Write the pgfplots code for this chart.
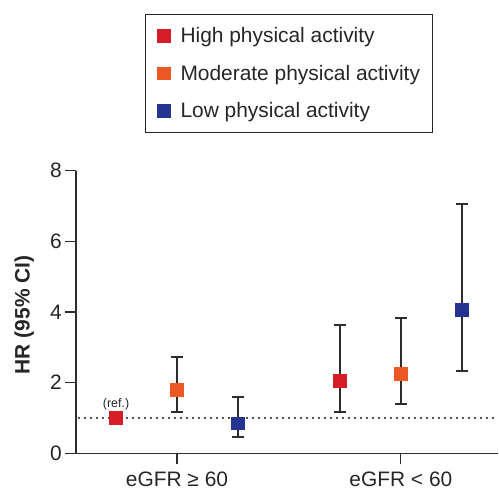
\documentclass[border=0pt]{standalone}
\usepackage{fontspec}
\setmainfont{Liberation Sans}
\usepackage{pgfplots}
\pgfplotsset{compat=1.18}
\definecolor{cred}{RGB}{215,30,40}
\definecolor{corange}{RGB}{236,88,36}
\definecolor{cblue}{RGB}{38,52,145}
\definecolor{caxis}{RGB}{45,45,45}
\begin{document}
\begin{tikzpicture}
\begin{axis}[
  scale only axis, width=422bp, height=282.6bp,
  xmin=0.549, xmax=2.434, ymin=0, ymax=8,
  axis lines*=left,
  axis line style={caxis, line width=1.3bp},
  tick style={caxis, line width=1.3bp},
  tick align=outside, major tick length=11bp,
  xtick={1,2}, xticklabels={eGFR ≥ 60, eGFR < 60},
  ytick={0,2,4,6,8},
  /pgf/number format/assume math mode=true,
  tick label style={font=\fontsize{21}{24}\selectfont, text=black!85},
  yticklabel style={inner sep=3bp},
  xticklabel style={yshift=-4bp},
  ylabel={HR (95\% CI)},
  ylabel style={font=\bfseries\fontsize{21}{24}\selectfont, text=black!85,
    at={(axis description cs:-0.123,0.49)}, anchor=center},
  legend style={at={(axis description cs:0.164,1.5545)}, anchor=north west,
    draw=black!85, line width=1bp, font=\fontsize{21}{24}\selectfont,
    inner xsep=12bp, inner ysep=13bp, row sep=21bp, cells={anchor=west},
    nodes={inner sep=0pt, text=black!85},
    /tikz/every odd column/.append style={column sep=10bp}},
  clip=false,
]
\addplot[forget plot, black!85, line width=2.3bp, dash pattern=on 0pt off 6bp, line cap=round]
  coordinates {(0.562,1) (2.434,1)};
\addplot[forget plot, mark=none, draw=none,
  error bars/.cd, y dir=both, y explicit,
  error bar style={draw=caxis, line width=2bp, solid},
  error mark options={rotate=90, mark size=6bp, line width=2bp, draw=caxis}]
  coordinates {
    (1,1.81) += (0,0.92) -= (0,0.64)
    (1.272,0.85) += (0,0.73) -= (0,0.40)
    (1.728,2.06) += (0,1.56) -= (0,0.89)
    (2,2.26) += (0,1.57) -= (0,0.87)
    (2.272,4.07) += (0,2.99) -= (0,1.73)
  };
\addplot[only marks, mark=square*, mark size=6.4bp, color=cred, mark options={fill=cred, draw=none}]
  coordinates {(0.728,1.0) (1.728,2.06)};
\addlegendentry{High physical activity}
\addplot[only marks, mark=square*, mark size=6.4bp, color=corange, mark options={fill=corange, draw=none}]
  coordinates {(1,1.81) (2,2.26)};
\addlegendentry{Moderate physical activity}
\addplot[only marks, mark=square*, mark size=6.4bp, color=cblue, mark options={fill=cblue, draw=none}]
  coordinates {(1.272,0.85) (2.272,4.07)};
\addlegendentry{Low physical activity}
\node[font=\fontsize{12.5}{14}\selectfont, text=black!85] at (axis cs:0.728,1.39) {(ref.)};
\coordinate (o) at (rel axis cs:0,0);
\end{axis}
\pgfresetboundingbox
\path[use as bounding box] ([shift={(-76bp,-36.7bp)}]o) rectangle ++(499bp,490bp);
\end{tikzpicture}
\end{document}
